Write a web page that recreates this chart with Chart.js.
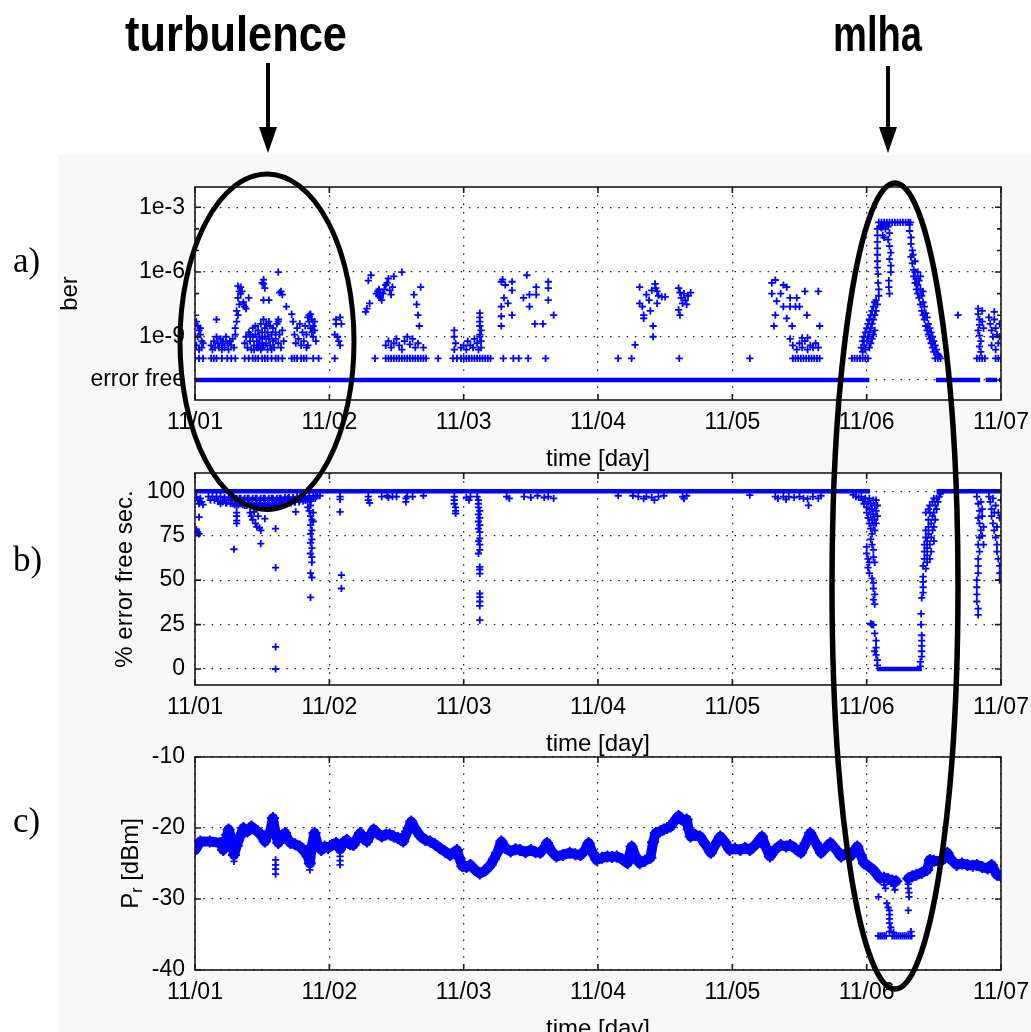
<!doctype html>
<html>
<head>
<meta charset="utf-8">
<script src="https://cdn.jsdelivr.net/npm/chart.js@4.4.1/dist/chart.umd.min.js"></script>
<style>
  html, body { margin: 0; padding: 0; overflow: hidden; background: #fff; width: 1031px; height: 1032px; }
  #fig { position: absolute; left: 58px; top: 155px; width: 973px; height: 877px; background: #f8f8f8; }
  canvas { position: absolute; left: 0; }
  svg { position: absolute; left: 0; top: 0; }
</style>
</head>
<body>
<div id="fig"></div>
<canvas id="berChart" width="1031" height="324" style="top:150px"></canvas>
<canvas id="efsChart" width="1031" height="319" style="top:440px"></canvas>
<canvas id="prChart" width="1031" height="324" style="top:720px"></canvas>
<svg width="1031" height="1032">
  <text x="125" y="51" font-family="Liberation Sans, Arial" font-weight="bold" font-size="50" textLength="222" lengthAdjust="spacingAndGlyphs">turbulence</text>
  <text x="833" y="51" font-family="Liberation Sans, Arial" font-weight="bold" font-size="50" textLength="89" lengthAdjust="spacingAndGlyphs">mlha</text>
  <line x1="268" y1="63" x2="268" y2="130" stroke="#000" stroke-width="4"/>
  <polygon points="259,127 277,127 268,153" fill="#000"/>
  <line x1="888" y1="66" x2="888" y2="130" stroke="#000" stroke-width="4"/>
  <polygon points="879,127 897,127 888,153" fill="#000"/>
  <ellipse cx="267" cy="341.7" rx="87" ry="167.7" fill="none" stroke="#000" stroke-width="5"/>
  <ellipse cx="895" cy="586" rx="63" ry="403" fill="none" stroke="#000" stroke-width="5.5"/>
  <text x="13" y="272" font-family="Liberation Serif, Times New Roman" font-size="35">a)</text>
  <text x="13" y="571" font-family="Liberation Serif, Times New Roman" font-size="35">b)</text>
  <text x="13" y="832" font-family="Liberation Serif, Times New Roman" font-size="35">c)</text>
</svg>
<script>
// x axis: days since 11/01 00:00
const days = ['11/01', '11/02', '11/03', '11/04', '11/05', '11/06', '11/07'];

// a) bit error rate, stored as log10(ber); -11 is the "error free" row
const berTicks = [-11, -9, -6, -3];
const berTickLabels = ['error free', '1e-9', '1e-6', '1e-3'];
const berMinorTicks = [-8, -7, -5, -4];
const berErrorFreeRuns = [[0, 5.02], [5.515, 5.845], [5.885, 5.97], [5.985, 6]];
const berPoints = [
  [0.01,-8.3],[0.02,-8.5],[0.03,-8.7],[0.02,-9.0],[0.04,-8.9],[0.05,-9.2],[0.01,-9.4],[0.03,-9.6],[0.06,-9.3],[0.04,-8.6],[0.0,-9.0],[0.05,-9.5],
  [0.0,-10],[0.03,-10],[0.06,-10],
  [0.12,-9.4],[0.14,-9.2],[0.15,-9.5],[0.16,-9.0],[0.17,-9.3],[0.18,-9.5],[0.19,-9.1],[0.2,-9.4],[0.21,-9.2],[0.22,-9.5],[0.23,-9.0],[0.24,-9.3],[0.25,-9.6],[0.26,-9.2],[0.27,-9.4],[0.28,-9.1],[0.29,-9.5],[0.16,-8.2],[0.13,-9.6],[0.2,-9.6],
  [0.12,-10],[0.14,-10],[0.16,-10],[0.2,-10],[0.24,-10],[0.27,-10],[0.3,-10],
  [0.3,-8.9],[0.3,-8.6],[0.31,-8.3],[0.32,-8.0],[0.31,-7.8],[0.33,-7.5],[0.32,-7.2],[0.33,-6.9],[0.32,-6.65],[0.34,-6.7],[0.35,-6.9],[0.36,-7.4],[0.37,-7.6],[0.38,-7.7],[0.36,-7.5],[0.4,-7.2],[0.34,-7.0],
  [0.37,-9.3],[0.38,-9.0],[0.39,-9.5],[0.4,-8.8],[0.41,-9.2],[0.42,-9.6],[0.43,-8.6],[0.43,-9.0],[0.44,-9.4],[0.45,-8.5],[0.45,-8.9],[0.46,-9.2],[0.46,-9.5],[0.47,-8.7],[0.48,-9.0],[0.48,-9.3],[0.49,-8.4],[0.49,-9.6],[0.5,-8.8],[0.5,-9.1],
  [0.51,-8.2],[0.51,-9.4],[0.52,-8.6],[0.52,-9.0],[0.53,-9.3],[0.53,-8.4],[0.54,-8.8],[0.54,-9.6],[0.55,-9.1],[0.56,-8.5],[0.56,-9.4],[0.57,-8.9],[0.58,-9.2],[0.58,-8.6],[0.59,-9.5],[0.6,-8.8],[0.6,-9.1],[0.61,-8.4],[0.62,-9.3],[0.63,-8.9],
  [0.64,-9.5],[0.65,-8.7],[0.66,-9.2],[0.44,-9.6],[0.55,-8.3],[0.47,-9.5],[0.57,-9.6],[0.41,-8.9],[0.5,-9.5],[0.62,-8.3],
  [0.37,-10],[0.4,-10],[0.43,-10],[0.45,-10],[0.47,-10],[0.5,-10],[0.52,-10],[0.54,-10],[0.57,-10],[0.6,-10],[0.62,-10],[0.65,-10],
  [0.51,-6.35],[0.51,-6.55],[0.52,-6.75],[0.5,-6.5],[0.51,-7.3],[0.55,-7.3],
  [0.62,-6.0],[0.64,-6.9],[0.65,-7.05],[0.63,-6.95],[0.68,-7.6],[0.72,-7.95],[0.62,-8.2],
  [0.73,-8.3],[0.74,-8.9],[0.75,-9.3],[0.76,-8.6],[0.77,-9.1],[0.78,-8.4],[0.79,-9.4],[0.8,-8.8],[0.81,-9.2],[0.82,-8.5],[0.83,-8.9],[0.84,-9.4],[0.85,-8.0],[0.85,-8.3],[0.86,-8.6],[0.86,-7.95],[0.87,-8.2],[0.87,-8.8],[0.88,-8.5],[0.88,-9.0],[0.89,-8.3],[0.89,-8.7],[0.9,-9.2],[0.84,-8.1],[0.83,-9.5],
  [0.72,-10],[0.74,-10],[0.76,-10],[0.79,-10],[0.81,-10],[0.83,-10],[0.88,-10],[0.92,-10],
  [1.05,-8.2],[1.05,-8.4],[1.04,-8.9],[1.07,-9.2],[1.08,-9.4],[1.06,-9.0],[1.08,-8.1],[1.09,-8.4],[1.04,-10],
  [1.27,-7.85],[1.28,-7.7],[1.3,-7.45],[1.29,-6.4],[1.31,-6.15],[1.34,-10],
  [1.35,-7.0],[1.36,-6.9],[1.37,-6.8],[1.37,-7.1],[1.38,-7.2],[1.39,-7.3],[1.4,-7.0],[1.41,-6.8],[1.42,-6.6],[1.43,-6.5],[1.44,-6.3],[1.45,-6.85],[1.46,-7.05],[1.47,-6.7],[1.48,-6.2],[1.38,-6.95],
  [1.54,-6.0],[1.63,-7.05],[1.65,-7.5],[1.66,-8.0],[1.67,-8.5],[1.68,-6.7],
  [1.42,-9.4],[1.44,-9.2],[1.46,-9.5],[1.48,-9.3],[1.5,-9.1],[1.52,-9.4],[1.54,-9.6],[1.56,-9.2],[1.58,-9.0],[1.6,-9.35],[1.62,-9.1],[1.64,-9.5],[1.66,-9.3],[1.7,-9.5],
  [1.42,-10],[1.44,-10],[1.46,-10],[1.48,-10],[1.5,-10],[1.52,-10],[1.54,-10],[1.56,-10],[1.58,-10],[1.6,-10],[1.62,-10],[1.64,-10],[1.66,-10],[1.68,-10],[1.7,-10],[1.72,-10],
  [1.81,-10],[1.93,-8.7],[1.93,-9.0],[1.94,-9.3],[1.93,-9.6],[1.92,-10],[1.95,-10],
  [1.98,-9.5],[2.0,-9.4],[2.02,-9.6],[2.03,-9.2],[2.05,-9.4],[2.07,-9.5],[2.08,-9.1],[2.1,-9.3],[2.11,-9.6],[2.12,-9.0],
  [2.12,-7.9],[2.12,-8.1],[2.12,-8.3],[2.12,-8.5],[2.13,-8.7],[2.12,-8.9],[2.13,-9.2],[2.13,-9.5],
  [1.98,-10],[2.0,-10],[2.02,-10],[2.04,-10],[2.06,-10],[2.08,-10],[2.1,-10],[2.12,-10],[2.14,-10],[2.16,-10],[2.18,-10],[2.2,-10],
  [2.28,-6.45],[2.29,-6.35],[2.31,-6.6],[2.36,-6.45],[2.36,-6.85],[2.28,-7.6],[2.3,-7.2],[2.33,-7.45],[2.28,-8.05],[2.28,-8.5],[2.36,-8.0],[2.445,-7.2],[2.47,-6.15],[2.49,-7.05],[2.49,-7.6],[2.54,-6.7],[2.54,-7.05],[2.53,-8.4],[2.59,-8.4],[2.63,-6.45],[2.63,-6.75],[2.63,-7.3],[2.67,-8.0],
  [2.295,-10],[2.37,-10],[2.41,-10],[2.48,-10],[2.61,-10],
  [3.15,-10],[3.25,-10],[3.276,-9.38],[3.41,-9.0],[3.41,-8.5],[3.34,-8.0],[3.34,-8.15],[3.31,-6.7],[3.31,-7.45],[3.33,-7.6],[3.36,-7.05],[3.38,-7.3],[3.39,-7.8],[3.425,-6.55],[3.43,-6.75],[3.44,-6.9],[3.45,-7.1],[3.44,-7.45],[3.475,-7.15],[3.5,-7.15],[3.4,-6.85],
  [3.6,-6.75],[3.61,-6.95],[3.62,-7.2],[3.64,-7.0],[3.65,-7.3],[3.63,-7.45],[3.67,-7.1],[3.69,-6.95],[3.66,-7.5],[3.6,-7.75],[3.61,-8.0],[3.605,-10],
  [4.13,-10],
  [4.32,-6.37],[4.294,-6.5],[4.38,-6.6],[4.405,-6.7],[4.294,-7.0],[4.36,-7.0],[4.43,-7.2],[4.48,-7.2],[4.54,-6.9],[4.64,-6.9],[4.33,-7.35],[4.38,-7.6],[4.43,-7.6],[4.47,-7.6],[4.5,-7.6],[4.32,-8.0],[4.405,-8.15],[4.555,-8.0],[4.31,-8.5],[4.445,-8.5],[4.65,-8.5],[4.43,-9.1],
  [4.45,-9.4],[4.48,-9.6],[4.5,-9.3],[4.52,-9.5],[4.54,-9.2],[4.56,-9.6],[4.58,-9.4],[4.6,-9.5],[4.62,-9.3],[4.64,-9.5],[4.56,-9.05],[4.52,-9.05],
  [4.45,-10],[4.47,-10],[4.49,-10],[4.51,-10],[4.53,-10],[4.55,-10],[4.57,-10],[4.59,-10],[4.61,-10],[4.63,-10],[4.65,-10],
  [4.89,-10],[4.91,-10],[4.93,-10],[4.95,-10],[4.97,-10],[4.99,-10],[5.01,-10],
  [4.96,-9.5],[4.97,-9.2],[4.97,-9.7],[4.98,-9.0],[4.98,-9.4],[4.99,-8.8],[4.99,-9.6],[5.0,-8.6],[5.0,-9.2],[5.01,-8.4],[5.01,-9.0],[5.02,-8.2],[5.02,-8.8],[5.02,-9.5],[5.03,-8.0],[5.03,-8.6],[5.03,-9.3],[5.04,-7.8],[5.04,-8.4],[5.04,-9.1],[5.05,-7.6],[5.05,-8.2],[5.05,-8.9],[5.06,-7.4],[5.06,-8.0],[5.06,-8.7],[5.07,-7.3],[5.07,-7.8],[5.08,-7.5],
  [5.08,-4.0],[5.08,-4.3],[5.08,-4.6],[5.08,-4.9],[5.08,-5.2],[5.08,-5.5],[5.08,-5.8],[5.085,-6.1],[5.085,-6.5],[5.09,-6.8],[5.09,-7.1],
  [5.16,-3.9],[5.17,-4.2],[5.16,-4.5],[5.17,-4.8],[5.18,-5.1],[5.17,-5.4],[5.18,-5.7],[5.18,-6.0],[5.165,-6.4],[5.165,-6.7],[5.17,-7.0],[5.14,-4.0],[5.13,-4.4],[5.11,-3.95],[5.12,-4.3],[5.13,-3.85],
  [5.09,-3.7],[5.11,-3.7],[5.13,-3.7],[5.15,-3.7],[5.17,-3.7],[5.19,-3.7],[5.21,-3.7],[5.23,-3.7],[5.25,-3.7],[5.27,-3.7],[5.29,-3.7],[5.31,-3.7],[5.325,-3.7],[5.1,-3.9],[5.12,-3.9],[5.14,-3.85],
  [5.32,-3.8],[5.32,-4.1],[5.33,-4.4],[5.33,-4.7],[5.34,-5.0],[5.33,-5.3],[5.34,-5.6],[5.35,-5.9],[5.345,-5.2],[5.35,-6.2],[5.36,-6.0],[5.36,-6.5],[5.37,-6.3],[5.37,-6.8],[5.38,-6.6],[5.38,-7.0],[5.39,-6.4],[5.39,-7.2],[5.4,-6.8],[5.4,-7.5],
  [5.41,-7.1],[5.41,-7.8],[5.42,-7.4],[5.42,-8.0],[5.43,-7.6],[5.43,-8.2],[5.44,-7.9],[5.44,-8.5],[5.45,-8.1],[5.45,-8.7],[5.46,-8.4],[5.46,-8.9],[5.47,-8.6],[5.47,-9.1],[5.48,-8.8],[5.48,-9.3],[5.49,-9.0],[5.49,-9.5],[5.5,-9.2],[5.5,-9.7],
  [5.51,-9.4],[5.52,-9.6],[5.53,-9.8],[5.54,-9.9],[5.36,-5.5],[5.38,-6.0],[5.4,-6.2],[5.42,-6.9],
  [5.51,-10],[5.53,-10],[5.55,-10],
  [5.68,-8.0],
  [5.83,-7.7],[5.83,-7.95],[5.84,-8.2],[5.84,-8.45],[5.83,-8.7],[5.84,-8.95],[5.85,-9.2],[5.84,-9.45],[5.85,-9.7],[5.86,-8.3],[5.87,-8.6],[5.86,-7.8],
  [5.91,-8.1],[5.92,-8.4],[5.93,-8.7],[5.94,-9.0],[5.95,-8.2],[5.96,-8.6],[5.97,-8.9],[5.98,-9.3],[5.99,-8.4],[5.93,-9.4],[5.96,-9.6],[5.99,-9.0],[5.95,-7.85],
  [5.82,-10],[5.84,-10],[5.86,-10],[5.88,-10],[5.96,-10],[5.98,-10],[6.0,-10]
];

// b) % error free seconds
const efsTicks = [0, 25, 50, 75, 100];
const efsFullRuns = [[0, 5.025], [5.52, 6]];
const efsZeroRuns = [[5.075, 5.41]];
// the solid turbulence band just below 100 % on 11/01
const efsTurbBand = [
  [0.1,97],[0.115,95],[0.13,97],[0.145,95],[0.16,97],[0.175,94.5],[0.19,97],[0.205,94],[0.22,96.5],[0.235,93.5],[0.25,96.5],[0.265,93],[0.28,96.5],[0.295,92.5],[0.31,96],[0.325,92.5],
  [0.34,96],[0.355,92.5],[0.37,96],[0.385,92],[0.4,96],[0.415,92],[0.43,96],[0.445,92],[0.46,96],[0.475,92],[0.49,96],[0.505,92],[0.52,96],[0.535,92],[0.55,96],[0.565,92],
  [0.58,96],[0.595,92.5],[0.61,96],[0.625,92.5],[0.64,96],[0.655,93],[0.67,96.5],[0.685,93],[0.7,96.5],[0.715,93.5],[0.73,96.5],[0.745,94],[0.76,97],[0.775,94],[0.79,97],[0.805,94.5],
  [0.82,97],[0.835,95],[0.85,97],[0.865,95.5],[0.88,97.5],[0.895,96],[0.91,97.5]
];
const efsPoints = [
  [0.01,97],[0.02,95],[0.03,93],[0.04,96],[0.05,94],[0.06,92.5],[0.03,85.5],[0.01,78.5],[0.02,77],[0.03,76],
  [0.17,94.5],[0.19,93],[0.21,95],[0.23,93.5],[0.25,95],
  [0.27,96],[0.28,93],[0.3,95],[0.31,92],[0.33,96],[0.34,93],[0.36,95],[0.37,92],[0.39,96],[0.4,93],[0.42,95],[0.43,92],[0.45,96],[0.46,93],[0.48,95],[0.49,92],[0.51,96],[0.52,93],[0.54,95],[0.55,92],
  [0.57,96],[0.58,93],[0.6,95],[0.61,92],[0.63,96],[0.64,93],[0.66,95],[0.67,92.5],[0.69,96],[0.7,93.5],[0.72,95],[0.74,94],[0.76,96],[0.78,95],[0.8,96.5],[0.82,95],[0.84,96],[0.86,94.5],[0.88,96],[0.9,97],[0.93,97.5],
  [0.31,88],[0.31,86],[0.31,83.5],[0.31,82],[0.29,67.4],
  [0.41,88],[0.42,86],[0.43,84],[0.44,88.5],[0.45,82],[0.46,80],[0.47,86],[0.48,79.5],[0.49,78],[0.49,70.6],[0.52,84.6],[0.6,79],[0.6,57],[0.6,12.5],[0.6,0],[0.75,88.4],
  [0.85,95],[0.86,92],[0.85,89],[0.86,86],[0.87,84],[0.86,81],[0.87,78],[0.86,76],[0.87,73],[0.86,71],[0.87,68],[0.86,65],[0.87,63],[0.87,60],[0.86,54],[0.87,51.5],[0.86,40.3],[0.88,88],[0.88,83],[0.84,91],
  [1.08,97],[1.08,95.5],[1.08,88.4],[1.09,52.8],[1.09,45.3],
  [1.29,97],[1.29,95],[1.3,93.5],[1.39,97],[1.43,97.5],[1.44,96.5],[1.47,97],[1.5,97],[1.57,96],[1.57,94],[1.58,97],[1.62,97],[1.7,97.5],
  [1.93,97],[1.93,95],[1.93,93],[1.94,91],[1.94,89],[1.94,87.5],
  [2.02,96.5],[2.04,95],[2.05,97],
  [2.1,97],[2.11,95],[2.11,93],[2.11,91],[2.12,89],[2.11,87],[2.12,85],[2.11,83],[2.12,81],[2.11,79],[2.12,77],[2.12,73.5],[2.11,72],[2.12,70],[2.12,67],[2.11,65],[2.12,57.5],[2.12,56],[2.12,53.7],[2.12,42.5],[2.12,40.5],[2.12,38],[2.12,35.5],[2.12,27.5],
  [2.32,97],[2.34,96],[2.45,97],[2.5,96.5],[2.55,97.5],[2.6,96.5],[2.63,97],[2.67,96],
  [3.15,97.5],[3.26,97.5],[3.3,97],[3.34,95.9],[3.36,97],[3.4,96.5],[3.42,95],[3.45,97],[3.49,97.5],[3.63,97],[3.64,95.9],[3.66,97.5],[4.13,97.8],
  [4.32,97],[4.34,96],[4.38,97],[4.4,95.5],[4.42,97],[4.46,96.5],[4.5,97],[4.53,96],[4.56,95.8],[4.567,92.1],[4.6,97],[4.64,96],[4.66,97.5],
  [4.9,98],[4.92,97],[4.94,96.5],[4.96,97],[4.97,95],[4.98,93],[4.99,96],[5.0,91],[5.0,88],[5.01,94],[5.01,85],[5.02,90],[5.02,82],[5.02,96],[5.03,87],[5.03,79],[5.03,93],[5.04,84],[5.04,76],[5.04,90],
  [5.05,81],[5.05,95],[5.05,87],[5.06,92],[5.06,78],[5.06,84],[5.07,89],[5.07,95],[5.07,82],[5.08,92],[5.08,86],[5.03,73],[5.04,70],
  [5.0,68.7],[5.0,65],[5.01,62],[5.02,60],[5.05,67],[5.05,63],[5.06,60],[5.01,57],[5.02,54],[5.04,51],[5.05,48.5],[5.05,45.3],[5.06,42],[5.05,39],[5.06,36.5],
  [5.03,25.5],[5.04,25],[5.05,24.8],[5.06,20],[5.07,16],[5.07,12],[5.07,8],[5.08,5],[5.08,2],[5.06,10],
  [5.4,1.5],[5.4,4],[5.41,7],[5.41,10],[5.41,13],[5.41,16],[5.41,19],[5.405,25],[5.405,31],[5.41,40],[5.42,43],[5.42,46],[5.42,49],[5.42,52],
  [5.42,58],[5.43,62],[5.43,66],[5.43,70],[5.44,74],[5.44,78],[5.44,56.5],[5.45,60],[5.45,64],[5.45,68],[5.45,72],[5.46,76],[5.46,80],[5.46,84],[5.47,62],[5.47,70],[5.47,88],[5.47,92],[5.48,66],[5.48,74],
  [5.48,82],[5.49,78],[5.49,86],[5.49,94],[5.5,80],[5.5,88],[5.5,96],[5.51,84],[5.51,92],[5.52,90],[5.52,96],[5.53,94],[5.54,97],[5.55,98.5],[5.44,88],[5.46,90],[5.5,72],
  [5.82,97],[5.83,93],[5.84,89],[5.83,85],[5.84,82],[5.85,78],[5.84,74],[5.83,70],[5.84,66],[5.83,62],[5.83,58],[5.83,54],[5.82,50],[5.82,46],[5.82,42],[5.82,38],[5.83,34],[5.83,30.5],
  [5.85,94],[5.86,90],[5.86,86],[5.87,80],[5.86,75],[5.87,70],
  [5.91,97],[5.92,94],[5.93,90],[5.93,86],[5.94,82],[5.95,78],[5.96,74],[5.97,70],[5.97,66],[5.98,62],[5.99,58],[5.99,54],[5.99,50],[5.94,96],[5.96,92],[5.98,88],[5.99,85],[6.0,95],[5.95,88],[5.97,80]
];

// c) received power Pr [dBm]
const prTicks = [-40, -30, -20, -10];
const prTraceA = [
  [0.0,-23.1],[0.04,-21.9],[0.11,-21.9],[0.19,-22.1],[0.21,-23.1],[0.24,-21.0],[0.25,-20.2],[0.27,-21.5],[0.29,-23.8],[0.31,-22.5],[0.335,-21.2],[0.36,-20.0],[0.39,-20.5],[0.42,-19.8],[0.45,-20.3],[0.47,-20.5],
  [0.5,-21.2],[0.52,-21.9],[0.54,-21.0],[0.56,-20.5],[0.58,-18.6],[0.6,-20.8],[0.62,-22.1],[0.645,-21.2],[0.67,-20.7],[0.69,-21.5],[0.71,-22.1],[0.745,-22.3],[0.78,-22.6],[0.81,-23.2],[0.84,-24.0],[0.855,-25.0],
  [0.87,-22.5],[0.89,-20.7],[0.915,-22.5],[0.94,-23.1],[0.965,-22.6],[0.99,-22.8],[1.02,-22.4],[1.05,-22.1],[1.08,-23.0],[1.105,-22.0],[1.13,-21.7],[1.155,-22.3],[1.18,-22.4],[1.205,-21.5],[1.23,-20.7],[1.255,-21.5],
  [1.28,-21.9],[1.305,-21.0],[1.33,-20.2],[1.36,-20.8],[1.39,-21.2],[1.42,-20.9],[1.45,-20.9],[1.48,-21.2],[1.51,-21.4],[1.53,-21.6],[1.55,-21.9],[1.58,-20.5],[1.61,-19.1],[1.645,-20.3],[1.68,-21.2],[1.715,-21.7],
  [1.75,-21.9],[1.785,-22.3],[1.82,-22.8],[1.86,-23.3],[1.9,-23.8],[1.95,-23.1],[1.97,-24.3],[1.99,-25.4],[2.02,-25.5],[2.05,-25.2],[2.085,-25.9],[2.12,-26.4],[2.16,-26.0],[2.2,-25.2],[2.225,-24.4],[2.25,-23.5],
  [2.28,-21.9],[2.31,-22.8],[2.35,-23.3],[2.385,-23.0],[2.42,-23.1],[2.46,-23.4],[2.5,-23.1],[2.535,-23.4],[2.57,-23.5],[2.6,-22.8],[2.62,-22.1],[2.655,-23.3],[2.69,-24.0],[2.74,-23.8],[2.79,-23.5],[2.83,-23.7],
  [2.87,-23.8],[2.9,-23.2],[2.93,-22.1],[2.96,-23.5],[2.99,-24.5],[3.03,-24.2],[3.07,-24.0],[3.105,-24.1],[3.14,-24.0],[3.18,-24.4],[3.22,-24.95],[3.25,-22.6],[3.28,-24.0],[3.31,-24.95],[3.35,-24.6],[3.39,-24.2],
  [3.41,-22.0],[3.43,-20.7],[3.46,-20.5],[3.49,-20.2],[3.515,-20.0],[3.54,-19.8],[3.57,-19.0],[3.6,-18.3],[3.63,-18.9],[3.66,-18.8],[3.675,-20.2],[3.69,-21.2],[3.725,-21.0],[3.76,-21.2],[3.8,-22.3],[3.84,-23.5],
  [3.875,-22.3],[3.91,-21.2],[3.945,-22.0],[3.98,-23.1],[4.02,-22.9],[4.06,-23.1],[4.095,-22.8],[4.13,-23.1],[4.175,-22.3],[4.22,-21.2],[4.25,-22.7],[4.28,-24.0],[4.32,-23.0],[4.36,-22.4],[4.4,-22.6],[4.43,-22.4],
  [4.47,-22.9],[4.51,-23.5],[4.545,-22.2],[4.58,-20.7],[4.62,-22.1],[4.66,-23.5],[4.695,-22.8],[4.73,-22.1],[4.77,-23.0],[4.81,-24.0],[4.845,-23.6],[4.88,-24.0],[4.9,-23.4],[4.93,-22.6],[4.955,-23.8],[4.98,-24.95],
  [5.015,-25.4],[5.05,-25.9],[5.075,-26.5],[5.1,-27.1],[5.13,-27.0],[5.16,-27.2],[5.19,-27.4],[5.22,-27.5]
];
const prTraceB = [
  [5.31,-27.1],[5.34,-26.8],[5.37,-26.6],[5.41,-26.3],[5.45,-25.9],[5.47,-24.5],[5.5,-24.6],[5.55,-24.7],[5.58,-24.2],[5.6,-23.5],[5.63,-24.5],[5.67,-25.2],[5.71,-25.0],[5.75,-25.2],[5.79,-25.3],[5.82,-25.2],
  [5.86,-25.5],[5.9,-25.7],[5.93,-25.2],[5.97,-26.6],[6.0,-26.8]
];
const prPoints = [
  [0.6,-24.5],[0.6,-25.2],[0.6,-25.8],[0.6,-26.5],[1.08,-24.0],[1.08,-24.6],[1.08,-25.2],[0.29,-24.7],[0.855,-25.9],[2.12,-26.6],
  [5.088,-29.7],[5.13,-28.0],[5.14,-28.5],[5.2,-28.2],[5.21,-28.7],[5.15,-30.6],[5.16,-31.2],[5.17,-31.6],[5.17,-32.2],[5.17,-32.8],[5.17,-33.4],[5.18,-34.0],[5.17,-34.6],
  [5.085,-35.2],[5.1,-35.2],[5.115,-35.2],[5.13,-35.2],[5.145,-35.2],[5.19,-35.2],[5.205,-35.2],[5.22,-35.2],[5.235,-35.2],[5.25,-35.2],[5.265,-35.2],[5.28,-35.2],[5.295,-35.2],[5.31,-35.2],[5.325,-35.2],[5.335,-35.2],
  [5.2,-34.7],[5.33,-34.6],[5.31,-31.6],[5.31,-27.3],[5.31,-27.9],[5.31,-28.5],[5.315,-29.1],[5.315,-29.7]
];

const blue = '#0000ff';
const toXY = arr => arr.map(([x, y]) => ({x, y}));

function runSets(runs, y, w) {
  return runs.map(([a, b]) => ({
    data: [{x: a, y}, {x: b, y}], showLine: true, borderColor: blue,
    borderWidth: w, pointRadius: 0, borderCapStyle: 'butt'
  }));
}
function crossSet(arr) {
  return {
    data: toXY(arr), showLine: false, pointStyle: 'cross', pointRadius: 3.6,
    borderColor: blue, backgroundColor: blue, borderWidth: 1.8
  };
}
function traceSet(arr) {
  return {
    data: toXY(arr), showLine: true, borderColor: blue, borderWidth: 10,
    borderJoinStyle: 'round', borderCapStyle: 'round', tension: 0,
    pointStyle: 'cross', pointRadius: 6, pointBorderWidth: 2, backgroundColor: blue
  };
}

// white axes area, MATLAB style box with inward ticks, y title
const frame = {
  id: 'frame',
  beforeDraw(chart) {
    const {ctx, chartArea: a} = chart;
    ctx.save();
    ctx.fillStyle = '#fff';
    ctx.fillRect(a.left, a.top, a.width, a.height);
    ctx.restore();
  },
  afterDraw(chart, args, opts) {
    const {ctx, chartArea: a, scales: {x, y}} = chart;
    ctx.save();
    ctx.strokeStyle = '#1a1a1a';
    ctx.lineWidth = 1.6;
    ctx.strokeRect(a.left, a.top, a.width, a.height);
    ctx.beginPath();
    x.ticks.forEach(t => {
      const px = x.getPixelForValue(t.value);
      ctx.moveTo(px, a.bottom); ctx.lineTo(px, a.bottom - 6);
      ctx.moveTo(px, a.top); ctx.lineTo(px, a.top + 6);
    });
    const yt = (v, len) => {
      const py = y.getPixelForValue(v);
      ctx.moveTo(a.left, py); ctx.lineTo(a.left + len, py);
      ctx.moveTo(a.right, py); ctx.lineTo(a.right - len, py);
    };
    y.ticks.forEach(t => yt(t.value, 6));
    (opts.minor || []).forEach(v => yt(v, 4));
    ctx.stroke();

    ctx.translate(opts.titleX, (a.top + a.bottom) / 2);
    ctx.rotate(-Math.PI / 2);
    ctx.fillStyle = '#000';
    ctx.textBaseline = 'middle';
    const big = '24px "Liberation Sans", Arial';
    const small = '16px "Liberation Sans", Arial';
    if (opts.sub) {
      ctx.font = big;
      const w1 = ctx.measureText(opts.title).width;
      const w3 = ctx.measureText(opts.rest).width;
      ctx.font = small;
      const w2 = ctx.measureText(opts.sub).width;
      let cx = -(w1 + w2 + w3) / 2;
      ctx.textAlign = 'left';
      ctx.font = big; ctx.fillText(opts.title, cx, 0); cx += w1;
      ctx.font = small; ctx.fillText(opts.sub, cx, 7); cx += w2;
      ctx.font = big; ctx.fillText(opts.rest, cx, 0);
    } else {
      ctx.font = big;
      ctx.textAlign = 'center';
      ctx.fillText(opts.title, 0, 0);
    }
    ctx.restore();
  }
};

const tickFont = {family: 'Liberation Sans', size: 23};
const gridOpts = {color: '#222', lineWidth: 1.3, drawTicks: false};
const borderOpts = {display: false, dash: [1.5, 6.8]};

// axes box in canvas pixels: left 195, right 1001
const AXES_LEFT = 195, AXES_RIGHT = 1001;

function makeChart(id, o) {
  const chart = new Chart(document.getElementById(id), {
    type: 'scatter',
    data: {datasets: o.datasets},
    options: {
      responsive: false,
      animation: false,
      events: [],
      layout: {padding: {left: 0, right: 1031 - AXES_RIGHT, top: o.padTop, bottom: 0}},
      plugins: {
        legend: {display: false},
        tooltip: {enabled: false},
        frame: {title: o.title, sub: o.sub, rest: o.rest, titleX: o.titleX, minor: o.minor}
      },
      scales: {
        x: {
          type: 'linear', min: 0, max: 6,
          afterBuildTicks: s => { s.ticks = days.map((d, i) => ({value: i})); },
          afterFit: s => { s.height = 74; s.paddingLeft = 0; s.paddingRight = 0; },
          ticks: {callback: v => days[Math.round(v)], font: tickFont, color: '#000', padding: 9, maxRotation: 0, autoSkip: false},
          grid: gridOpts,
          border: borderOpts,
          title: {display: true, text: 'time [day]', font: {family: 'Liberation Sans', size: 24}, color: '#000', padding: 0}
        },
        y: {
          type: 'linear', min: o.yMin, max: o.yMax,
          afterBuildTicks: s => { s.ticks = o.ticks.map(v => ({value: v})); },
          afterFit: s => { s.width = AXES_LEFT; },
          ticks: {callback: v => o.labels ? o.labels[o.ticks.indexOf(v)] : String(v), font: tickFont, color: '#000', padding: 10, autoSkip: false},
          grid: gridOpts,
          border: borderOpts
        }
      }
    },
    plugins: [frame]
  });
  // nudge the layout padding so the axes box lands where the reference has it
  const a = chart.chartArea;
  const pad = chart.options.layout.padding;
  if (Math.abs(a.right - AXES_RIGHT) > 0.5) {
    pad.right = Math.max(0, pad.right + (a.right - AXES_RIGHT));
    chart.update();
  }
  return chart;
}

makeChart('berChart', {
  padTop: 37, yMin: -11.93, yMax: -2.06,
  ticks: berTicks, labels: berTickLabels, minor: berMinorTicks,
  title: 'ber', titleX: 70,
  datasets: [crossSet(berPoints), ...runSets(berErrorFreeRuns, -11, 4.5)]
});

makeChart('efsChart', {
  padTop: 33, yMin: -9, yMax: 110.3,
  ticks: efsTicks,
  title: '% error free sec.', titleX: 125.5,
  datasets: [crossSet(efsPoints), crossSet(efsTurbBand), ...runSets(efsFullRuns, 100, 4.5), ...runSets(efsZeroRuns, 0, 4.5)]
});

makeChart('prChart', {
  padTop: 37, yMin: -40, yMax: -10,
  ticks: prTicks,
  title: 'P', sub: 'r', rest: ' [dBm]', titleX: 131,
  datasets: [crossSet(prPoints), traceSet(prTraceA), traceSet(prTraceB)]
});
</script>
</body>
</html>
